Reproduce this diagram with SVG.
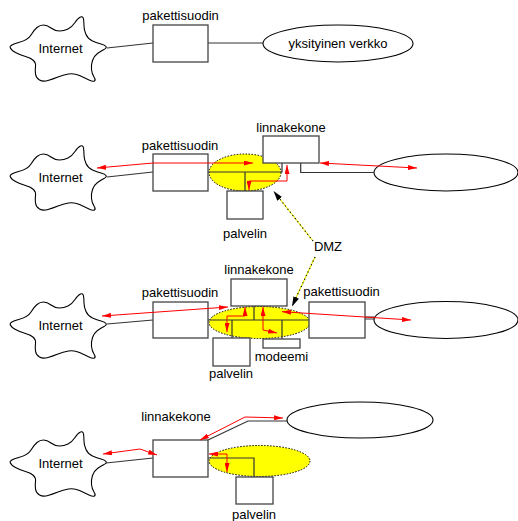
<svg xmlns="http://www.w3.org/2000/svg" width="518" height="521" viewBox="0 0 518 521">
<style>
.box{fill:#fff;stroke:#444;stroke-width:1.3}
.ln{fill:none;stroke:#333;stroke-width:1.2}
.cl{fill:#fff;stroke:#000;stroke-width:1.1}
.el{fill:#fff;stroke:#000;stroke-width:1.1}
.dmzel{fill:#ffff00;stroke:#000;stroke-width:1;stroke-dasharray:1.5,1.5}
.red{fill:none;stroke:#ff0000;stroke-width:1;marker-start:url(#ar);marker-end:url(#ar)}
.dy{fill:none;stroke:#e6e600;stroke-width:1.2}
.dk{fill:none;stroke:#000;stroke-width:1.2;stroke-dasharray:1,3;marker-end:url(#ab)}
.t{font-family:"Liberation Sans",Arial,sans-serif;font-size:13px;text-anchor:middle;fill:#000}
</style>
<defs>
<marker id="ar" viewBox="0 0 9 5" refX="9" refY="2.5" markerWidth="9" markerHeight="5" markerUnits="userSpaceOnUse" orient="auto-start-reverse"><path d="M0,0 L9,2.5 L0,5 z" fill="#ff0000"/></marker>
<marker id="ab" viewBox="0 0 10 6" refX="10" refY="3" markerWidth="10" markerHeight="6" markerUnits="userSpaceOnUse" orient="auto"><path d="M0,0 L10,3 L0,6 z" fill="#000"/></marker>
<path id="cloud" d="M10.15,47.5 Q9.3,45 18.65,42.5 Q28,40 31,35 Q34,30 37,27.5 Q40,25 43.5,25 Q47,25 51,28 Q55,31 59.5,31 Q64,31 68,29 Q72,27 75,22.5 Q78,18 80.5,17 Q83,16 83.5,19 Q84,22 84,26 Q84,30 86,34.5 Q88,39 92.5,41 Q97,43 101,44 Q105,45 106,46.5 Q107,48 104,49.5 Q101,51 97.5,53.5 Q94,56 92.5,60.5 Q91,65 91.5,69.5 Q92,74 94,77 Q96,80 94.5,81 Q93,82 89,80 Q85,78 79.5,75.5 Q74,73 68.5,74 Q63,75 58,77 Q53,79 48,80.5 Q43,82 39.5,80 Q36,78 35.5,74 Q35,70 35.5,66.5 Q36,63 33.5,60.5 Q31,58 25.5,56.5 Q20,55 15.5,52.5 Q11,50 10.15,47.5 Z"/>
</defs>

<!-- connectors -->
<g id="connectors">
  <!-- section 1 -->
  <line class="ln" x1="107" y1="48" x2="153" y2="43"/>
  <line class="ln" x1="208" y1="43" x2="263" y2="43"/>
  <!-- section 2 -->
  <line class="ln" x1="107" y1="177" x2="153" y2="172"/>
  <!-- section 3 -->
  <line class="ln" x1="107" y1="324" x2="153" y2="320"/>
  <!-- section 4 -->
  <line class="ln" x1="106" y1="463" x2="153" y2="458"/>
  <polyline class="ln" points="208,440 248,421 287,421"/>
</g>

<!-- section 1 nodes -->
<g id="internet1"><use href="#cloud" class="cl"/><text class="t" x="60.5" y="53">Internet</text></g>
<g id="pakettisuodin1"><rect class="box" x="153" y="25" width="55" height="37"/><text class="t" x="180.5" y="20">pakettisuodin</text></g>
<g id="verkko1"><ellipse class="el" cx="338" cy="43.5" rx="75" ry="18.5"/><text class="t" x="338" y="48">yksityinen verkko</text></g>

<!-- section 2 nodes -->
<g id="internet2"><use href="#cloud" class="cl" transform="translate(0,129)"/><text class="t" x="60.5" y="182">Internet</text></g>
<g id="dmz2"><ellipse class="dmzel" cx="245" cy="172.5" rx="36" ry="18.5"/></g>
<g id="verkko2"><ellipse class="el" cx="446" cy="172.5" rx="72" ry="18.5"/></g>
<g id="lines2">
  <polyline class="ln" points="208,172 282,172 282,163"/>
  <line class="ln" x1="245" y1="172" x2="245" y2="191"/>
  <polyline class="ln" points="300.7,163 300.7,172.5 374,172.5"/>
</g>
<g id="pakettisuodin2"><rect class="box" x="153" y="154" width="55" height="37"/><text class="t" x="180" y="150">pakettisuodin</text></g>
<g id="linnakekone2"><rect class="box" x="263" y="136" width="56" height="27"/><text class="t" x="291" y="132">linnakekone</text></g>
<g id="palvelin2"><rect class="box" x="227" y="191" width="36" height="28"/><text class="t" x="245" y="238">palvelin</text></g>

<!-- section 3 nodes -->
<g id="internet3"><use href="#cloud" class="cl" transform="translate(0,277)"/><text class="t" x="60.5" y="330">Internet</text></g>
<g id="dmz3"><ellipse class="dmzel" cx="259.5" cy="322.5" rx="50.5" ry="16"/></g>
<g id="verkko3"><ellipse class="el" cx="446" cy="320" rx="72" ry="18.5"/></g>
<g id="lines3">
  <line class="ln" x1="208" y1="320" x2="309" y2="320"/>
  <line class="ln" x1="254" y1="306" x2="254" y2="320"/>
  <line class="ln" x1="232" y1="320" x2="232" y2="338"/>
  <line class="ln" x1="282" y1="320" x2="282" y2="339"/>
  <rect x="365" y="317" width="9" height="2" fill="#fff" stroke="#333" stroke-width="1"/>
</g>
<g id="linnakekone3"><rect class="box" x="231" y="279" width="56" height="27"/><text class="t" x="259" y="274">linnakekone</text></g>
<g id="pakettisuodin3a"><rect class="box" x="153" y="302" width="55" height="36"/><text class="t" x="180" y="297">pakettisuodin</text></g>
<g id="pakettisuodin3b"><rect class="box" x="309" y="302" width="56" height="36"/><text class="t" x="341.5" y="296">pakettisuodin</text></g>
<g id="palvelin3"><rect class="box" x="213" y="338" width="37" height="28"/><text class="t" x="231" y="378">palvelin</text></g>
<g id="modeemi3"><rect class="box" x="263" y="339" width="37" height="9"/><text class="t" x="281.5" y="361">modeemi</text></g>

<!-- section 4 nodes -->
<g id="internet4"><use href="#cloud" class="cl" transform="translate(0,415)"/><text class="t" x="60.5" y="468">Internet</text></g>
<g id="dmz4"><ellipse class="dmzel" cx="259.5" cy="461" rx="50.5" ry="15.5"/></g>
<g id="verkko4"><ellipse class="el" cx="360" cy="420" rx="73" ry="18"/></g>
<g id="lines4">
  <polyline class="ln" points="208,458 254,458 254,477"/>
</g>
<g id="linnakekone4"><rect class="box" x="153" y="440" width="55" height="37"/><text class="t" x="176" y="421">linnakekone</text></g>
<g id="palvelin4"><rect class="box" x="236" y="477" width="37" height="27"/><text class="t" x="254" y="519">palvelin</text></g>

<!-- DMZ label -->
<g id="dmzlabel">
  <line class="dy" x1="313" y1="241" x2="276" y2="194"/>
  <line class="dk" x1="313" y1="241" x2="273.5" y2="191"/>
  <line class="dy" x1="315" y1="257" x2="293.5" y2="303"/>
  <line class="dk" x1="315" y1="257" x2="292" y2="306.5"/>
  <text class="t" x="328" y="251">DMZ</text>
</g>

<!-- traffic arrows -->
<g id="traffic">
  <polyline class="red" points="97,168 153,163 253,163"/>
  <polyline class="red" points="249,190 249,181 287,181 287,165"/>
  <line class="red" x1="320" y1="163" x2="417" y2="168"/>
  <line class="red" x1="102" y1="316" x2="228" y2="307"/>
  <polyline class="red" points="245,307 245,316 227,316 227,332"/>
  <polyline class="red" points="263,307 263,330 277,333"/>
  <line class="red" x1="282" y1="311.7" x2="411" y2="320"/>
  <polyline class="red" points="103,454 140,449 157,455"/>
  <polyline class="red" points="200,440 245,417 283,418"/>
  <polyline class="red" points="209,454 227,454 227,472"/>
</g>
</svg>
